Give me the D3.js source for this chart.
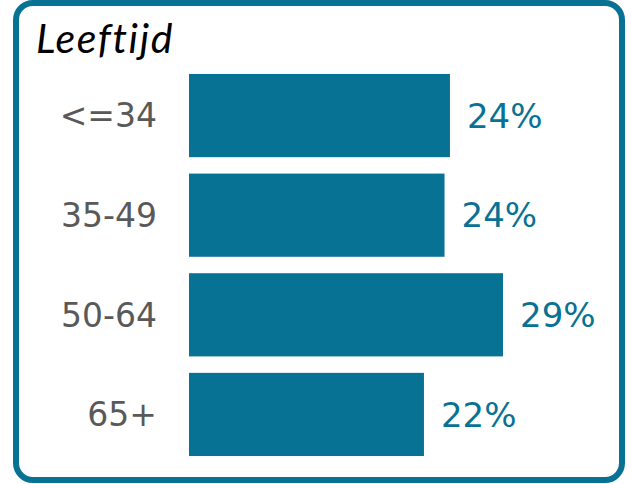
<!DOCTYPE html>
<html>
<head>
<meta charset="utf-8">
<script src="https://cdn.jsdelivr.net/npm/d3@7"></script>
<style>
  body { margin: 0; background: #fff; }
  text { font-family: Lato, "Noto Sans", sans-serif; }
  .lab { font-family: "DejaVu Sans", sans-serif; }
</style>
</head>
<body>
<script>
// data
categories = ["<=34", "35-49", "50-64", "65+"]
values = [24.1, 23.6, 29.0, 21.7]
valueLabels = ["24%", "24%", "29%", "22%"]
title = "Leeftijd"

width = 631
height = 484
teal = "#077294"

svg = d3.select("body").append("svg")
	.attr("width", width)
	.attr("height", height)

// rounded frame
svg.append("rect")
	.attr("x", 16).attr("y", 3)
	.attr("width", 606).attr("height", 477)
	.attr("rx", 17)
	.attr("fill", "#fff")
	.attr("stroke", teal)
	.attr("stroke-width", 6)

svg.append("text")
	.attr("x", 36).attr("y", 53)
	.attr("font-style", "italic")
	.attr("font-size", 41)
	.attr("letter-spacing", 1.6)
	.attr("fill", "#000")
	.text(title)

x = d3.scaleLinear()
	.domain([0, 29])
	.range([189, 503])

y = d3.scaleBand()
	.domain(categories)
	.range([66, 464])
	.paddingInner(0.165)
	.paddingOuter(0.08)

svg.append("g")
	.attr("fill", teal)
	.selectAll("rect")
	.data(values)
	.join("rect")
	.attr("x", x(0))
	.attr("y", (d, i) => y(categories[i]))
	.attr("width", d => x(d) - x(0))
	.attr("height", y.bandwidth())

// category labels
svg.append("g")
	.selectAll("text")
	.data(categories)
	.join("text")
	.attr("class", "lab")
	.attr("x", 157)
	.attr("y", d => y(d) + y.bandwidth() / 2)
	.attr("dy", "0.36em")
	.attr("text-anchor", "end")
	.attr("font-size", 33)
	.attr("fill", "#595959")
	.text(d => d)

// value labels
svg.append("g")
	.selectAll("text")
	.data(values)
	.join("text")
	.attr("class", "lab")
	.attr("x", d => x(d) + 17)
	.attr("y", (d, i) => y(categories[i]) + y.bandwidth() / 2)
	.attr("dy", "0.36em")
	.attr("font-size", 34)
	.attr("fill", teal)
	.text((d, i) => valueLabels[i])
</script>
</body>
</html>
